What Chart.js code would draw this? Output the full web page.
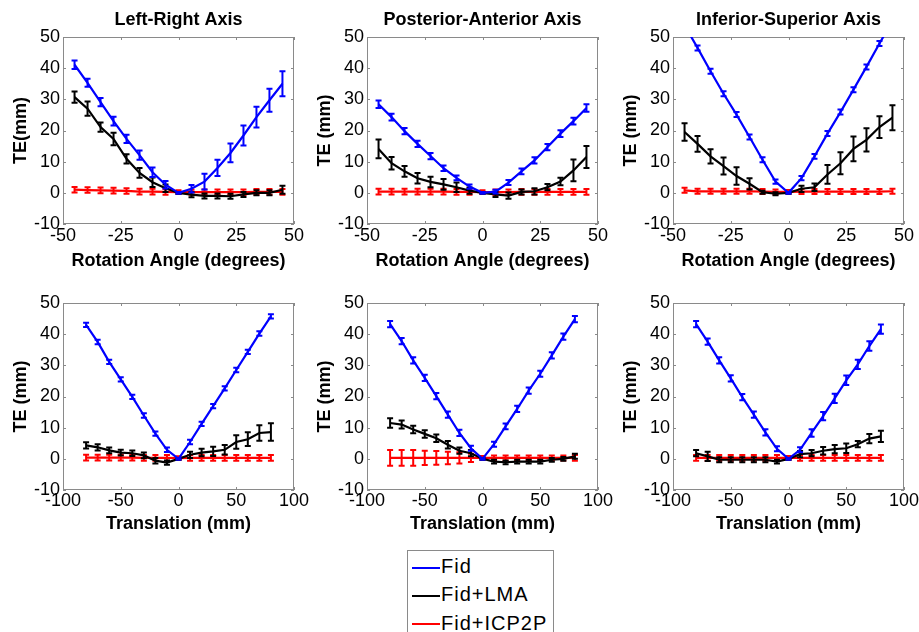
<!DOCTYPE html>
<html>
<head>
<meta charset="utf-8">
<script src="https://cdn.jsdelivr.net/npm/chart.js@4.4.0/dist/chart.umd.min.js"></script>
<style>
  body { margin: 0; background: #fff; width: 919px; height: 632px; overflow: hidden; position: relative; font-family: "Liberation Sans", Arial, sans-serif; }
  canvas { position: absolute; }
  #legend { position: absolute; left: 407px; top: 550px; width: 147px; height: 100px; box-sizing: border-box; border: 1px solid #8a8a8a; padding-top: 1px; }
  #legend .row { height: 28.3px; line-height: 28.3px; font-size: 20px; letter-spacing: 1px; color: #000; white-space: nowrap; }
  #legend .swatch { display: inline-block; width: 28px; height: 2px; margin-left: 4px; margin-right: 1px; vertical-align: middle; }
</style>
</head>
<body>
<div id="legend">
  <div class="row"><span class="swatch" style="background:#0000ff"></span>Fid</div>
  <div class="row"><span class="swatch" style="background:#000000"></span>Fid+LMA</div>
  <div class="row"><span class="swatch" style="background:#ff0000"></span>Fid+ICP2P</div>
</div>
<script>
// x positions
var rotAngles = [-45, -39.375, -33.75, -28.125, -22.5, -16.875, -11.25, -5.625, 0, 5.625, 11.25, 16.875, 22.5, 28.125, 33.75, 39.375, 45];
var transMm = [-80, -70, -60, -50, -40, -30, -20, -10, 0, 10, 20, 30, 40, 50, 60, 70, 80];
var rotTicks = [-50, -25, 0, 25, 50];
var transTicks = [-100, -50, 0, 50, 100];
var teTicks = [-10, 0, 10, 20, 30, 40, 50];

// Left-Right, rotation
var lrRotFid = [41.1, 35.3, 29.1, 23.0, 17.3, 12.1, 6.6, 2.6, 0, 1.3, 3.6, 8.0, 12.8, 18.4, 24.3, 29.7, 35.0];
var lrRotFidErr = [1.4, 1.3, 1.3, 1.4, 1.3, 1.5, 1.5, 1.2, 0.3, 1.2, 2.5, 2.6, 3.0, 3.2, 3.3, 3.7, 4.0];
var lrRotLma = [30.7, 27.0, 21.1, 17.3, 10.9, 6.4, 3.4, 1.5, 0, -0.6, -1.0, -1.0, -1.1, -0.5, 0, 0, 1.0];
var lrRotLmaErr = [1.8, 2.3, 1.5, 2.0, 1.5, 1.6, 1.5, 1.2, 0.3, 0.8, 0.8, 0.8, 0.8, 0.8, 0.8, 0.8, 1.3];
var lrRotIcp = [1.0, 0.9, 0.8, 0.7, 0.6, 0.4, 0.4, 0.3, 0.2, 0.2, 0.2, 0.2, 0.2, 0.2, 0.3, 0.3, 0.3];
var lrRotIcpErr = [0.9, 0.9, 0.9, 0.9, 0.9, 0.9, 0.9, 0.9, 0.6, 0.8, 0.9, 0.9, 0.9, 0.9, 0.9, 0.9, 0.9];

// Posterior-Anterior, rotation
var paRotFid = [28.4, 24.3, 19.8, 15.7, 11.8, 7.9, 4.8, 2.0, 0, 0.4, 3.3, 6.9, 10.4, 14.7, 19.0, 23.0, 27.2];
var paRotFidErr = [1.2, 1.1, 1.0, 1.0, 1.0, 0.9, 0.8, 0.7, 0.3, 0.6, 0.8, 0.9, 1.0, 1.0, 1.1, 1.1, 1.2];
var paRotLma = [14.1, 9.5, 6.9, 4.7, 3.5, 2.7, 1.8, 0.7, 0, -0.5, -0.9, 0.3, 0.5, 1.8, 3.6, 7.2, 11.5];
var paRotLmaErr = [3.0, 2.0, 1.7, 1.7, 1.7, 1.7, 1.5, 1.0, 0.3, 0.8, 1.0, 0.8, 1.0, 1.0, 1.2, 3.5, 3.5];
var paRotIcp = [0.4, 0.4, 0.4, 0.4, 0.4, 0.4, 0.3, 0.3, 0.2, 0.2, 0.2, 0.3, 0.3, 0.3, 0.3, 0.3, 0.3];
var paRotIcpErr = [0.9, 0.9, 0.9, 0.9, 0.9, 0.9, 0.9, 0.9, 0.6, 0.9, 0.9, 0.9, 0.9, 0.9, 0.9, 0.9, 0.9];

// Inferior-Superior, rotation
var isRotFid = [53.8, 46.5, 39.0, 31.8, 25.1, 17.9, 10.6, 3.6, 0, 4.7, 11.7, 19.0, 25.9, 33.1, 40.4, 47.9, 55.2];
var isRotFidErr = [0.8, 0.8, 0.8, 0.8, 0.8, 0.8, 0.8, 0.7, 0.3, 0.7, 0.8, 0.8, 0.8, 0.8, 0.8, 0.8, 0.8];
var isRotLma = [19.5, 15.7, 11.7, 8.6, 5.4, 2.9, 0.2, -0.3, 0, 1.3, 1.8, 5.9, 9.5, 14.1, 17.0, 21.1, 24.1];
var isRotLmaErr = [2.8, 2.5, 2.3, 2.7, 2.8, 1.8, 0.5, 0.5, 0.3, 1.0, 1.2, 3.0, 3.5, 4.0, 3.7, 3.5, 4.0];
var isRotIcp = [0.8, 0.5, 0.5, 0.5, 0.5, 0.5, 0.4, 0.3, 0.3, 0.4, 0.4, 0.4, 0.4, 0.4, 0.4, 0.4, 0.5];
var isRotIcpErr = [0.8, 0.8, 0.8, 0.8, 0.8, 0.8, 0.8, 0.8, 0.6, 0.8, 0.8, 0.8, 0.8, 0.8, 0.8, 0.8, 0.8];

// Left-Right, translation
var lrTrFid = [43.0, 37.5, 31.1, 25.5, 19.9, 13.9, 8.1, 2.9, 0, 5.4, 11.2, 16.9, 22.6, 28.5, 34.3, 40.2, 45.7];
var lrTrFidErr = [0.7, 0.7, 0.7, 0.7, 0.7, 0.7, 0.7, 0.7, 0.3, 0.7, 0.7, 0.7, 0.7, 0.7, 0.7, 0.7, 0.7];
var lrTrLma = [4.3, 3.7, 2.7, 2.0, 1.8, 1.1, -0.6, -1.2, 0, 1.3, 2.0, 2.4, 2.9, 5.4, 6.3, 8.3, 8.6];
var lrTrLmaErr = [1.0, 1.0, 0.9, 0.9, 0.9, 0.9, 0.9, 0.7, 0.3, 1.0, 1.2, 1.5, 1.5, 2.2, 2.2, 2.5, 2.8];
var lrTrIcp = [0.4, 0.4, 0.4, 0.4, 0.4, 0.3, 0.3, 0.3, 0.2, 0.3, 0.3, 0.3, 0.3, 0.3, 0.3, 0.3, 0.3];
var lrTrIcpErr = [0.9, 0.9, 0.9, 0.9, 0.9, 0.9, 0.9, 0.9, 0.6, 0.9, 0.9, 0.9, 0.9, 0.9, 0.9, 0.9, 0.9];

// Posterior-Anterior, translation
var paTrFid = [43.2, 37.8, 31.6, 26.0, 20.1, 14.2, 8.3, 3.4, 0, 4.7, 10.4, 16.0, 21.9, 27.3, 33.2, 39.2, 44.8];
var paTrFidErr = [1.0, 1.0, 1.0, 1.0, 1.0, 1.0, 1.0, 0.8, 0.3, 0.8, 0.9, 1.0, 1.0, 1.0, 1.0, 1.0, 1.0];
var paTrLma = [11.5, 11.0, 9.4, 8.0, 6.6, 4.5, 2.6, 1.8, 0, -0.9, -1.1, -0.9, -0.9, -0.9, -0.3, 0, 0.8];
var paTrLmaErr = [1.5, 1.3, 1.2, 1.2, 1.2, 1.2, 1.0, 1.0, 0.3, 0.6, 0.6, 0.6, 0.6, 0.6, 0.6, 0.6, 0.8];
var paTrIcp = [0.3, 0.3, 0.3, 0.3, 0.3, 0.3, 0.3, 0.3, 0.3, 0.3, 0.3, 0.3, 0.3, 0.3, 0.3, 0.3, 0.3];
var paTrIcpErr = [2.5, 2.5, 2.5, 2.3, 2.2, 2.0, 1.8, 1.3, 0.6, 0.8, 0.8, 0.8, 0.8, 0.8, 0.8, 0.8, 0.9];

// Inferior-Superior, translation
var isTrFid = [43.2, 37.6, 31.6, 25.8, 19.8, 14.2, 8.5, 3.2, 0, 2.9, 8.3, 13.7, 19.4, 25.2, 30.3, 36.2, 41.6];
var isTrFidErr = [1.0, 1.0, 1.0, 1.0, 1.0, 1.0, 1.0, 0.8, 0.3, 0.8, 1.2, 1.3, 1.5, 1.5, 1.5, 1.5, 1.5];
var isTrLma = [1.8, 0.8, -0.3, -0.3, -0.3, -0.3, -0.3, -0.9, 0, 1.5, 1.8, 2.6, 3.1, 3.4, 4.7, 6.5, 7.2];
var isTrLmaErr = [1.0, 1.5, 0.8, 0.8, 0.8, 0.8, 0.8, 0.6, 0.3, 1.0, 1.0, 1.2, 1.3, 1.5, 1.0, 1.5, 1.8];
var isTrIcp = [0.3, 0.3, 0.3, 0.3, 0.3, 0.3, 0.3, 0.3, 0.3, 0.3, 0.3, 0.3, 0.3, 0.3, 0.3, 0.3, 0.3];
var isTrIcpErr = [0.9, 0.9, 0.9, 0.9, 0.9, 0.9, 0.9, 0.9, 0.6, 0.9, 0.9, 0.9, 0.9, 0.9, 0.9, 0.9, 0.9];

var seriesNames = ['Fid', 'Fid+LMA', 'Fid+ICP2P'];
var seriesColors = ['#0000ff', '#000000', '#ff0000'];

Chart.defaults.font.family = '"Liberation Sans", Arial, sans-serif';
Chart.defaults.color = '#000';

// vertical error bars, drawn right after each line so the z-order matches
var errorBars = {
  id: 'errorBars',
  afterDatasetDraw: function (chart, args) {
    var ds = chart.data.datasets[args.index];
    if (!ds.errors) return;
    var ctx = chart.ctx, a = chart.chartArea;
    var xs = chart.scales.x, ys = chart.scales.y;
    ctx.save();
    ctx.beginPath();
    ctx.rect(a.left, a.top - 1, a.right - a.left, a.bottom - a.top + 2);
    ctx.clip();
    ctx.strokeStyle = ds.borderColor;
    ctx.lineWidth = 2;
    ds.data.forEach(function (p, i) {
      var x = xs.getPixelForValue(p.x);
      var lo = ys.getPixelForValue(p.y - ds.errors[i]);
      var hi = ys.getPixelForValue(p.y + ds.errors[i]);
      ctx.beginPath();
      ctx.moveTo(x, lo); ctx.lineTo(x, hi);
      ctx.moveTo(x - 3, lo); ctx.lineTo(x + 3, lo);
      ctx.moveTo(x - 3, hi); ctx.lineTo(x + 3, hi);
      ctx.stroke();
    });
    ctx.restore();
  }
};

// grey box round the plot with short inward ticks on all four sides
var axesBox = {
  id: 'axesBox',
  beforeDatasetsDraw: function (chart) {
    var a = chart.chartArea, ctx = chart.ctx;
    var xs = chart.scales.x, ys = chart.scales.y;
    ctx.save();
    ctx.strokeStyle = '#8a8a8a';
    ctx.lineWidth = 1;
    ctx.strokeRect(a.left + 0.5, a.top + 0.5, a.right - a.left - 1, a.bottom - a.top - 1);
    ctx.beginPath();
    xs.ticks.forEach(function (t) {
      var x = Math.round(xs.getPixelForValue(t.value)) + 0.5;
      ctx.moveTo(x, a.bottom); ctx.lineTo(x, a.bottom - 3);
      ctx.moveTo(x, a.top); ctx.lineTo(x, a.top + 3);
    });
    ys.ticks.forEach(function (t) {
      var y = Math.round(ys.getPixelForValue(t.value)) + 0.5;
      ctx.moveTo(a.left, y); ctx.lineTo(a.left + 3, y);
      ctx.moveTo(a.right, y); ctx.lineTo(a.right - 3, y);
    });
    ctx.stroke();
    ctx.restore();
  }
};

function toPoints(xs, ys) {
  return xs.map(function (x, i) { return { x: x, y: ys[i] }; });
}

function makePanel(p) {
  var canvas = document.createElement('canvas');
  canvas.width = 314;
  canvas.height = 274;
  canvas.style.left = p.left + 'px';
  canvas.style.top = p.top + 'px';
  document.body.appendChild(canvas);

  var datasets = p.values.map(function (vals, k) {
    return {
      label: seriesNames[k],
      data: toPoints(p.xValues, vals),
      errors: p.errors[k],
      borderColor: seriesColors[k],
      backgroundColor: seriesColors[k],
      borderWidth: 2.2,
      pointRadius: 0,
      tension: 0
    };
  });

  new Chart(canvas, {
    type: 'line',
    data: { datasets: datasets },
    options: {
      responsive: false,
      animation: false,
      events: [],
      layout: { padding: { top: p.title ? 0 : 37, right: 20, left: 0, bottom: 0 } },
      plugins: {
        legend: { display: false },
        tooltip: { enabled: false },
        title: {
          display: !!p.title,
          text: p.title,
          fullSize: false,
          color: '#000',
          font: { size: 18, weight: 'bold' },
          padding: { top: 9, bottom: 6.4 }
        }
      },
      scales: {
        x: {
          type: 'linear',
          min: p.xTicks[0],
          max: p.xTicks[p.xTicks.length - 1],
          afterBuildTicks: function (s) { s.ticks = p.xTicks.map(function (v) { return { value: v }; }); },
          afterFit: function (s) { s.height = 50; },
          grid: { display: false, drawTicks: false },
          border: { display: false },
          ticks: { autoSkip: false, maxRotation: 0, color: '#000', font: { size: 18 }, padding: p.xPad },
          title: { display: true, text: p.xTitle, color: '#000', font: { size: 18, weight: 'bold' }, padding: { top: 0, bottom: p.xTitlePad } }
        },
        y: {
          type: 'linear',
          min: -10,
          max: 50,
          afterBuildTicks: function (s) { s.ticks = teTicks.map(function (v) { return { value: v }; }); },
          afterFit: function (s) { s.width = 63; },
          grid: { display: false, drawTicks: false },
          border: { display: false },
          ticks: { autoSkip: false, color: '#000', font: { size: 18 }, padding: 3 },
          title: { display: true, text: p.yTitle, color: '#000', font: { size: 18, weight: 'bold' }, padding: { top: 10, bottom: 0 } }
        }
      }
    },
    plugins: [axesBox, errorBars]
  });
}

var rotTitle = 'Rotation Angle (degrees)';
var trTitle = 'Translation (mm)';

makePanel({ left: 0, top: 0, title: 'Left-Right Axis', yTitle: 'TE(mm)', xTitle: rotTitle, xValues: rotAngles, xTicks: rotTicks, xPad: 1, xTitlePad: 2.5,
  values: [lrRotFid, lrRotLma, lrRotIcp], errors: [lrRotFidErr, lrRotLmaErr, lrRotIcpErr] });
makePanel({ left: 304, top: 0, title: 'Posterior-Anterior Axis', yTitle: 'TE (mm)', xTitle: rotTitle, xValues: rotAngles, xTicks: rotTicks, xPad: 1, xTitlePad: 2.5,
  values: [paRotFid, paRotLma, paRotIcp], errors: [paRotFidErr, paRotLmaErr, paRotIcpErr] });
makePanel({ left: 610, top: 0, title: 'Inferior-Superior Axis', yTitle: 'TE (mm)', xTitle: rotTitle, xValues: rotAngles, xTicks: rotTicks, xPad: 1, xTitlePad: 2.5,
  values: [isRotFid, isRotLma, isRotIcp], errors: [isRotFidErr, isRotLmaErr, isRotIcpErr] });
makePanel({ left: 0, top: 266, title: '', yTitle: 'TE (mm)', xTitle: trTitle, xValues: transMm, xTicks: transTicks, xPad: 0, xTitlePad: 5,
  values: [lrTrFid, lrTrLma, lrTrIcp], errors: [lrTrFidErr, lrTrLmaErr, lrTrIcpErr] });
makePanel({ left: 304, top: 266, title: '', yTitle: 'TE (mm)', xTitle: trTitle, xValues: transMm, xTicks: transTicks, xPad: 0, xTitlePad: 5,
  values: [paTrFid, paTrLma, paTrIcp], errors: [paTrFidErr, paTrLmaErr, paTrIcpErr] });
makePanel({ left: 610, top: 266, title: '', yTitle: 'TE (mm)', xTitle: trTitle, xValues: transMm, xTicks: transTicks, xPad: 0, xTitlePad: 5,
  values: [isTrFid, isTrLma, isTrIcp], errors: [isTrFidErr, isTrLmaErr, isTrIcpErr] });
</script>
</body>
</html>
